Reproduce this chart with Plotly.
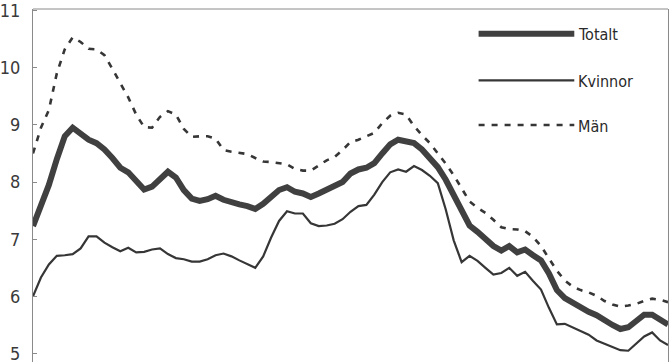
import plotly.graph_objects as go

periods = list(range(81))

totalt = [7.23, 7.57, 7.95, 8.40, 8.80, 8.95, 8.85, 8.74, 8.68, 8.57,
          8.42, 8.25, 8.17, 8.00, 7.87, 7.92, 8.06, 8.18, 8.08, 7.86,
          7.71, 7.67, 7.70, 7.76, 7.69, 7.64, 7.61, 7.58, 7.53, 7.62,
          7.75, 7.86, 7.91, 7.83, 7.80, 7.74, 7.80, 7.86, 7.92, 8.00,
          8.15, 8.22, 8.25, 8.33, 8.50, 8.66, 8.74, 8.72, 8.68, 8.57,
          8.43, 8.26, 8.04, 7.76, 7.47, 7.24, 7.13, 7.01, 6.88, 6.80,
          6.88, 6.77, 6.82, 6.72, 6.63, 6.40, 6.11, 5.97, 5.88, 5.80,
          5.73, 5.67, 5.57, 5.50, 5.43, 5.46, 5.57, 5.68, 5.68, 5.60,
          5.51]

kvinnor = [6.00, 6.33, 6.56, 6.71, 6.72, 6.74, 6.84, 7.05, 7.05, 6.94,
           6.86, 6.79, 6.85, 6.77, 6.78, 6.82, 6.84, 6.74, 6.67, 6.65,
           6.61, 6.61, 6.65, 6.72, 6.75, 6.70, 6.63, 6.56, 6.50, 6.70,
           7.03, 7.32, 7.49, 7.45, 7.45, 7.28, 7.23, 7.24, 7.27, 7.35,
           7.48, 7.58, 7.60, 7.78, 8.00, 8.17, 8.22, 8.18, 8.28, 8.21,
           8.11, 7.98, 7.52, 6.98, 6.60, 6.71, 6.62, 6.50, 6.38, 6.41,
           6.50, 6.36, 6.43, 6.27, 6.12, 5.80, 5.51, 5.52, 5.46, 5.40,
           5.33, 5.23, 5.17, 5.12, 5.06, 5.05, 5.17, 5.30, 5.37, 5.23,
           5.15]

man = [8.50, 8.95, 9.26, 9.90, 10.32, 10.53, 10.45, 10.33, 10.32, 10.22,
       9.98, 9.73, 9.48, 9.18, 8.96, 8.95, 9.14, 9.24, 9.18, 8.93,
       8.79, 8.80, 8.80, 8.76, 8.56, 8.53, 8.51, 8.49, 8.42, 8.36,
       8.35, 8.33, 8.31, 8.23, 8.20, 8.20, 8.29, 8.38, 8.44, 8.56,
       8.70, 8.74, 8.80, 8.86, 9.03, 9.16, 9.21, 9.18, 8.98, 8.82,
       8.68, 8.51, 8.32, 8.12, 7.89, 7.66, 7.55, 7.46, 7.34, 7.21,
       7.18, 7.17, 7.14, 7.04, 6.88, 6.67, 6.45, 6.28, 6.17, 6.11,
       6.07, 6.01, 5.92, 5.86, 5.82, 5.84, 5.87, 5.92, 5.96, 5.94,
       5.90]

y_ticks = [5, 6, 7, 8, 9, 10, 11]
series_names = ["Totalt", "Kvinnor", "Män"]

LINE = "#363636"
FRAME = "#8a8a8a"
FONT = "DejaVu Sans Condensed, Liberation Sans Narrow, Roboto Condensed, sans-serif"

styles = [dict(width=6, color="#404040"),
          dict(width=2.2, color=LINE),
          dict(width=2.6, color=LINE, dash="6px,7px")]

fig = go.Figure()
for name, vals, st in zip(series_names, [totalt, kvinnor, man], styles):
    fig.add_trace(go.Scatter(x=periods, y=vals, mode="lines", name=name,
                             line=dict(shape="linear", **st),
                             showlegend=False))

W, H = 671, 364
ML, MR, MT, MB = 31, 3, 8, 0
pw, ph = W - ML - MR, H - MT - MB

def px(x):
    return (x - ML) / pw

def py(y):
    return (H - MB - y) / ph

shapes = [dict(type="line", xref="paper", yref="paper", x0=0, x1=1, y0=1, y1=1,
               line=dict(color=FRAME, width=1))]
annotations = []
leg_y = [33, 80, 125]
for name, st, ly in zip(series_names, styles, leg_y):
    shapes.append(dict(type="line", xref="paper", yref="paper",
                       x0=px(478), x1=px(574), y0=py(ly), y1=py(ly),
                       line=st))
    annotations.append(dict(text=name, xref="paper", yref="paper",
                            x=px(576), y=py(ly + 1), xanchor="left",
                            yanchor="middle", showarrow=False,
                            font=dict(family=FONT, size=16, color="#2a2a2a")))

fig.update_layout(
    width=W, height=H,
    margin=dict(l=ML, r=MR, t=MT, b=MB, pad=0),
    paper_bgcolor="white", plot_bgcolor="white",
    showlegend=False,
    shapes=shapes, annotations=annotations,
    xaxis=dict(visible=False, range=[0, 80]),
    yaxis=dict(range=[4.853, 11.026], tickvals=y_ticks,
               ticktext=[str(v) for v in y_ticks],
               showgrid=False, zeroline=False,
               showline=True, linecolor=FRAME, linewidth=1, mirror=True,
               ticks="inside", ticklen=4, tickcolor=FRAME,
               ticklabeloverflow="allow",
               tickfont=dict(family=FONT, size=18, color="#3a3a3a"),
               ticklabelstandoff=8),
)

fig.write_html("out.html")
